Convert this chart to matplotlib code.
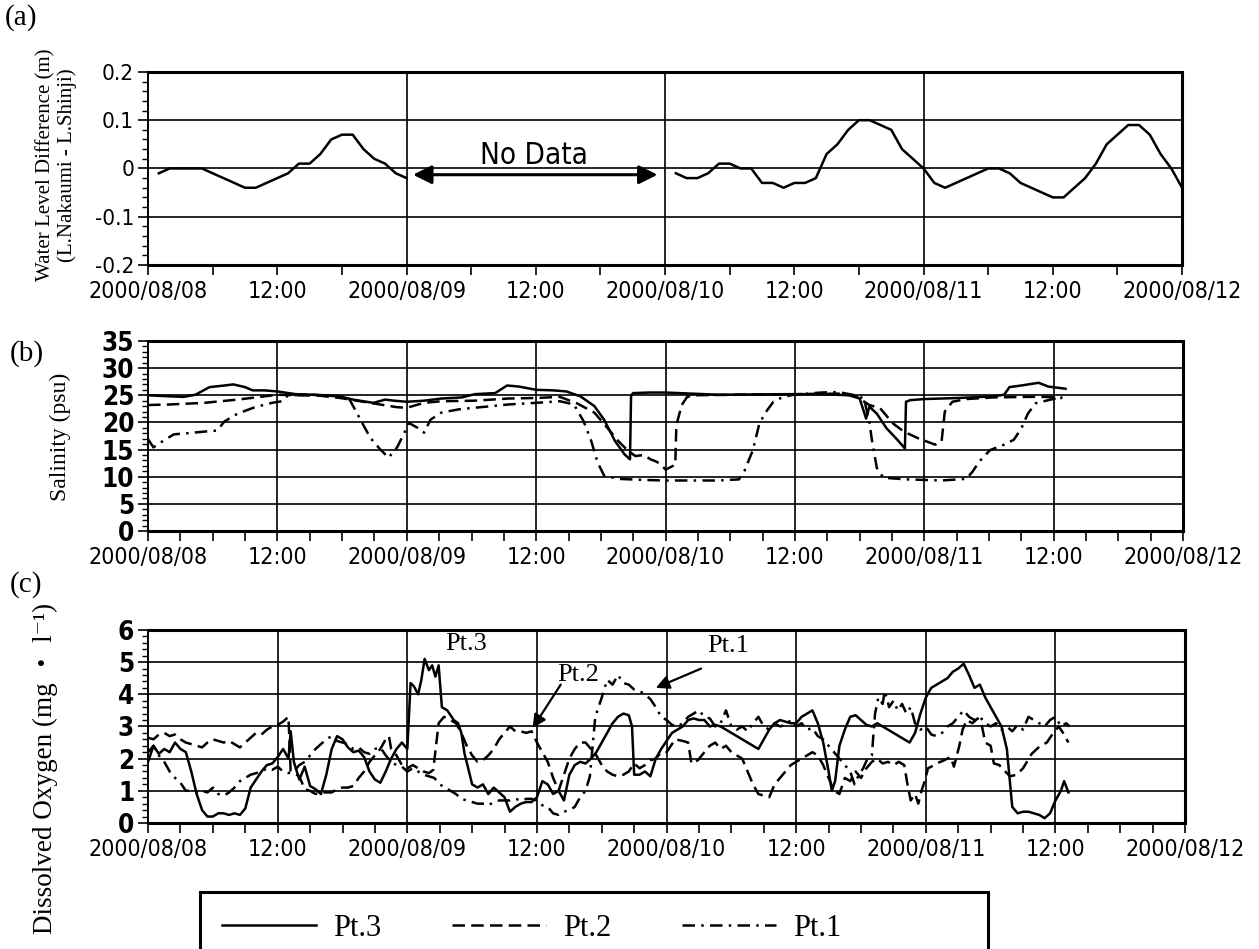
import matplotlib

matplotlib.use("Agg")
import matplotlib.pyplot as plt
from matplotlib import font_manager
from matplotlib.font_manager import FontProperties
from matplotlib.patches import Rectangle
from matplotlib.ticker import FuncFormatter, MultipleLocator

plt.rcParams["axes.unicode_minus"] = False


def is_regular(f):
    return f.weight in (400, "normal", "regular") and f.style == "normal"


def is_bold(f):
    return f.weight in (700, "bold") and f.style == "normal"


# pick a narrow sans for the tick labels if one is installed
fonts = font_manager.fontManager.ttflist
narrow = [f for f in fonts
          if ("Narrow" in f.name or "Condensed" in f.name or f.stretch in ("condensed", "semi-condensed"))
          and is_regular(f) and "Mono" not in f.name and "Serif" not in f.name]
if narrow:
    base = narrow[0]
    bold = [f for f in fonts if f.name == base.name and f.stretch == base.stretch and is_bold(f)]
    TICK_FILE = base.fname
    TICK_BOLD_FILE = bold[0].fname if bold else base.fname
    TICK_SCALE = 0.85
else:
    TICK_FILE = None
    TICK_BOLD_FILE = None
    TICK_SCALE = 0.8
SERIF = "Liberation Serif"


def tick_font(size, bold=False):
    if TICK_FILE is None:
        fp = FontProperties(family="Liberation Sans", weight="bold" if bold else "normal")
    else:
        fp = FontProperties(fname=TICK_BOLD_FILE if bold else TICK_FILE)
    fp.set_size(size * TICK_SCALE)
    return fp


# time axis: hours after 2000/08/08 00:00
DATE_TICKS = [0, 12, 24, 36, 48, 60, 72, 84, 96]
DATE_LABELS = ["2000/08/08", "12:00", "2000/08/09", "12:00", "2000/08/10",
               "12:00", "2000/08/11", "12:00", "2000/08/12"]
SERIES = ["Pt.3", "Pt.2", "Pt.1"]

# (a) water level difference, hourly, two recorded spans
WL_HOURS_1 = list(range(1, 25))
WL_1 = [-0.01, 0.0, 0.0, 0.0, 0.0, -0.01, -0.02, -0.03, -0.04, -0.04, -0.03, -0.02,
        -0.01, 0.01, 0.01, 0.03, 0.06, 0.07, 0.07, 0.04, 0.02, 0.01, -0.01, -0.02]
WL_HOURS_2 = list(range(49, 97))
WL_2 = [-0.01, -0.02, -0.02, -0.01, 0.01, 0.01, 0.0, 0.0, -0.03, -0.03, -0.04, -0.03,
        -0.03, -0.02, 0.03, 0.05, 0.08, 0.10, 0.10, 0.09, 0.08, 0.04, 0.02, 0.0,
        -0.03, -0.04, -0.03, -0.02, -0.01, 0.0, 0.0, -0.01, -0.03, -0.04, -0.05, -0.06,
        -0.06, -0.04, -0.02, 0.01, 0.05, 0.07, 0.09, 0.09, 0.07, 0.03, 0.0, -0.04]

# (b) salinity (hour, psu)
SAL_PT3 = [(0, 25), (2, 24.8), (3.3, 24.7), (4.4, 25.1), (5.7, 26.5), (7.1, 26.8), (7.9, 27.0),
           (9.0, 26.5), (9.7, 25.9), (10.8, 25.9), (12, 25.7), (13.7, 25.2), (15.6, 25.1),
           (17.8, 24.8), (19, 24.2), (20.9, 23.6), (22, 24.2), (22.8, 24.0), (24, 23.8),
           (25.6, 24.0), (27.2, 24.4), (29.1, 24.6), (30.3, 25.2), (32.2, 25.4), (33.3, 26.8),
           (34.4, 26.6), (36, 26.0), (37.6, 25.9), (38.8, 25.7), (40.1, 24.8), (41.4, 23.0),
           (42.3, 20.5), (43.3, 16.6), (44.2, 14.1), (44.7, 13.2), (44.8, 25.0), (45, 25.4),
           (46.5, 25.5), (48, 25.5), (52.9, 25.1), (59.2, 25.2), (62.4, 25.2), (65, 25.0),
           (66, 24.4), (66.6, 20.7), (66.9, 22.9), (67.6, 21.6), (68.5, 18.9), (69.5, 16.8),
           (70.2, 15.2), (70.3, 23.8), (70.7, 24.1), (72, 24.3), (75.2, 24.5), (78.4, 24.8),
           (79.4, 25.1), (79.9, 26.5), (81, 26.8), (82.6, 27.3), (83.5, 26.6), (85.1, 26.2)]
SAL_PT2 = [(0, 23.2), (2, 23.3), (5.2, 23.6), (8.3, 24.2), (10.8, 24.8), (12, 25.1), (14, 25.0),
           (16, 24.9), (17.8, 24.5), (20.9, 23.5), (23.1, 22.8), (24, 22.7), (25.6, 23.6),
           (27.2, 23.9), (30.3, 24.0), (33.4, 24.4), (36, 24.5), (38.2, 24.7), (39.8, 23.5),
           (41.4, 21.8), (42.6, 19.0), (43.6, 16.6), (44.5, 14.8), (45.2, 13.8), (46, 14.0),
           (46.6, 13.2), (47, 12.9), (47.5, 12.4), (48, 11.3), (48.9, 12.2), (49, 19.5),
           (49.5, 23.2), (50, 24.7), (50.6, 25.0), (55, 25.1), (60, 25.2), (64, 25.3),
           (65.6, 24.9), (66.9, 23.2), (67.9, 22.6), (69.1, 19.8), (70.1, 18.3), (71.4, 17.1),
           (73, 15.9), (73.6, 16.5), (73.9, 22.0), (74.6, 23.8), (75.9, 24.3), (78.4, 24.6),
           (81.6, 24.7), (83.2, 24.7), (84.8, 24.5)]
SAL_PT1 = [(0, 16.9), (0.5, 15.4), (1.4, 16.6), (2.4, 17.8), (3.6, 18.0), (5.2, 18.3), (6.4, 18.5),
           (7.1, 20.2), (8.3, 21.6), (9.9, 22.8), (11.5, 23.6), (12.4, 23.9), (13, 25.0),
           (15, 25.1), (17.8, 24.8), (18.7, 24.2), (19.7, 20.5), (20.6, 17.2), (21.5, 15.1),
           (22.3, 13.5), (23.1, 15.4), (23.7, 17.8), (24.2, 19.9), (25, 19.0), (25.6, 18.1),
           (26.2, 20.5), (27.2, 21.8), (28.8, 22.4), (30.3, 22.7), (31.9, 23.0), (33.4, 23.3),
           (36, 23.6), (38.2, 23.9), (39.5, 23.3), (40.4, 20.2), (41.1, 16.6), (41.7, 12.6),
           (42.3, 10.2), (43.6, 9.6), (46, 9.4), (47.9, 9.3), (49.7, 9.3), (52.9, 9.3),
           (54.8, 9.5), (55.3, 11.0), (56.1, 14.9), (56.7, 19.8), (57.3, 21.9), (58, 23.8),
           (58.9, 24.7), (59.9, 25.1), (62.4, 25.5), (64, 25.6), (65.6, 25.0), (66.4, 24.4),
           (66.9, 20.1), (67.2, 15.9), (67.6, 11.6), (68.2, 9.8), (70.4, 9.5), (73.6, 9.3),
           (75.9, 9.6), (76.5, 11.0), (77.1, 12.8), (78.1, 14.9), (79.4, 15.9), (80.3, 16.8),
           (81, 18.9), (81.6, 21.6), (82.3, 23.5), (83.5, 24.1), (84.8, 24.7)]

# (c) dissolved oxygen (hour, mg/l)
DO_PT3 = [(0, 1.9), (0.5, 2.4), (1, 2.15), (1.5, 2.3), (2, 2.2), (2.5, 2.5), (3, 2.3), (3.5, 2.2),
          (4, 1.6), (4.5, 0.9), (5, 0.4), (5.5, 0.2), (6, 0.2), (6.5, 0.3), (7, 0.3), (7.5, 0.25),
          (8, 0.3), (8.5, 0.25), (9, 0.45), (9.5, 1.1), (10, 1.35), (10.5, 1.6), (11, 1.8),
          (11.5, 1.85), (12, 2.05), (12.5, 2.3), (13, 2.0), (13.2, 2.85), (13.5, 1.9), (14, 1.35),
          (14.5, 1.75), (15, 1.15), (15.5, 1.05), (16, 0.9), (16.5, 1.5), (17, 2.3), (17.5, 2.7),
          (18, 2.6), (18.5, 2.35), (19, 2.2), (19.5, 2.25), (20, 2.05), (20.5, 1.6), (21, 1.35),
          (21.5, 1.25), (22, 1.6), (22.5, 2.0), (23, 2.3), (23.5, 2.5), (24, 2.3), (24.3, 4.35),
          (24.6, 4.25), (25, 4.0), (25.3, 4.45), (25.6, 5.1), (26, 4.75), (26.3, 4.9), (26.6, 4.55),
          (26.9, 4.9), (27.2, 3.6), (27.7, 3.5), (28.3, 3.2), (28.7, 3.1), (29, 2.8), (29.3, 2.15),
          (29.6, 1.75), (30, 1.2), (30.5, 1.1), (31, 1.2), (31.5, 0.9), (32, 1.1), (32.5, 0.95),
          (33, 0.8), (33.5, 0.35), (34, 0.5), (34.5, 0.6), (35, 0.65), (35.5, 0.65), (36, 0.8),
          (36.5, 1.3), (37, 1.2), (37.5, 0.9), (38, 1.0), (38.5, 0.7), (39, 1.5), (39.5, 1.8),
          (40, 1.9), (40.5, 1.85), (41, 2.0), (41.5, 2.2), (42, 2.5), (42.5, 2.8), (43, 3.1),
          (43.5, 3.3), (44, 3.4), (44.5, 3.35), (44.8, 3.0), (45, 1.5), (45.5, 1.5), (46, 1.6),
          (46.5, 1.45), (47, 2.0), (47.5, 2.3), (48, 2.55), (48.5, 2.8), (49, 2.9), (49.5, 3.0),
          (50, 3.2), (50.5, 3.25), (51, 3.2), (51.5, 3.2), (52, 3.0), (52.5, 3.05), (53, 3.0),
          (53.5, 2.9), (54, 2.8), (54.5, 2.7), (55, 2.6), (55.5, 2.5), (56, 2.4), (56.5, 2.3),
          (57, 2.6), (57.5, 2.9), (58, 3.1), (58.5, 3.2), (59, 3.15), (59.5, 3.1), (60, 3.1),
          (60.5, 3.3), (61, 3.4), (61.5, 3.5), (62, 3.1), (62.5, 2.5), (63, 1.6), (63.3, 1.0),
          (63.6, 1.3), (64, 2.4), (64.5, 2.9), (65, 3.3), (65.5, 3.35), (66, 3.2), (66.5, 3.05),
          (67, 3.0), (67.5, 3.1), (68, 3.0), (68.5, 2.9), (69, 2.8), (69.5, 2.7), (70, 2.6),
          (70.5, 2.5), (71, 2.8), (71.5, 3.4), (72, 3.9), (72.5, 4.2), (73, 4.3), (73.5, 4.4),
          (74, 4.5), (74.5, 4.7), (75, 4.8), (75.5, 4.95), (76, 4.6), (76.5, 4.2), (77, 4.3),
          (77.5, 3.9), (78, 3.6), (78.5, 3.3), (79, 3.0), (79.5, 2.3), (80, 0.5), (80.5, 0.3),
          (81, 0.35), (81.5, 0.35), (82, 0.3), (82.5, 0.25), (83, 0.15), (83.5, 0.3), (84, 0.7),
          (84.5, 1.0), (84.8, 1.3), (85.2, 0.95)]
DO_PT2 = [(0, 2.65), (0.5, 2.6), (1, 2.75), (1.5, 2.8), (2, 2.7), (2.5, 2.75), (3, 2.6), (3.5, 2.5),
          (4, 2.45), (4.5, 2.4), (5, 2.35), (5.5, 2.5), (6, 2.6), (6.5, 2.55), (7, 2.5), (7.5, 2.55),
          (8, 2.45), (8.5, 2.35), (9, 2.5), (9.5, 2.65), (10, 2.8), (10.5, 2.75), (11, 2.9),
          (11.5, 3.0), (12, 3.05), (12.5, 3.15), (13, 3.3), (13.2, 1.6), (13.5, 1.55), (14, 1.45),
          (14.5, 1.05), (15, 1.0), (15.5, 0.9), (16, 0.95), (16.5, 0.95), (17, 0.95), (17.5, 1.05),
          (18, 1.1), (18.5, 1.1), (19, 1.15), (19.5, 1.4), (20, 1.6), (20.5, 1.9), (21, 2.1),
          (21.5, 2.3), (22, 2.6), (22.3, 2.7), (22.5, 2.3), (23, 2.1), (23.5, 1.8), (24, 1.7),
          (24.5, 1.8), (25, 1.7), (25.5, 1.6), (26, 1.55), (26.4, 1.65), (26.9, 3.1), (27.4, 3.3),
          (28, 3.2), (28.5, 3.1), (29, 2.8), (29.5, 2.4), (30, 2.1), (30.5, 1.9), (31, 1.95),
          (31.5, 2.1), (32, 2.3), (32.5, 2.6), (33, 2.8), (33.5, 3.0), (34, 2.85), (34.5, 2.85),
          (35, 2.8), (35.5, 2.85), (36, 2.5), (36.5, 2.2), (37, 1.9), (37.5, 1.4), (38, 1.0),
          (38.5, 1.5), (39, 2.0), (39.5, 2.3), (40, 2.5), (40.5, 2.5), (41, 2.3), (41.5, 2.1),
          (42, 1.8), (42.5, 1.6), (43, 1.5), (43.5, 1.45), (44, 1.5), (44.5, 1.6), (45, 1.85),
          (45.5, 1.7), (46, 1.8), (46.5, 1.95), (47, 2.0), (47.5, 2.2), (48, 2.2), (48.8, 2.6),
          (49.5, 2.55), (50, 2.5), (50.3, 1.85), (50.9, 1.95), (51.5, 2.2), (52, 2.4), (52.5, 2.5),
          (53, 2.3), (53.5, 2.4), (54, 2.2), (54.5, 2.1), (55, 2.0), (55.5, 1.6), (56, 1.2),
          (56.5, 0.9), (57, 0.85), (57.5, 0.8), (58, 1.2), (58.5, 1.4), (59, 1.6), (59.5, 1.8),
          (60, 1.9), (60.5, 2.0), (61, 2.1), (61.5, 2.2), (62, 2.1), (62.5, 1.8), (63, 1.4),
          (63.5, 1.0), (64, 0.9), (64.5, 1.4), (65, 1.3), (65.5, 1.6), (66, 1.4), (66.5, 1.7),
          (67, 1.9), (67.5, 2.0), (68, 1.85), (68.5, 1.9), (69, 1.8), (69.5, 1.9), (70, 1.8),
          (70.3, 1.2), (70.6, 0.7), (71, 0.9), (71.3, 0.6), (71.6, 1.0), (71.9, 1.3), (72.2, 1.7),
          (72.5, 1.75), (73, 1.85), (73.7, 1.95), (74.3, 2.05), (74.6, 1.75), (75.1, 2.4),
          (75.4, 2.9), (75.8, 3.2), (76.3, 3.1), (76.8, 3.25), (77.2, 3.0), (77.5, 2.5), (78, 2.4),
          (78.3, 1.85), (78.8, 1.8), (79.2, 1.65), (79.8, 1.45), (80.4, 1.5), (81, 1.7),
          (81.8, 2.15), (82.6, 2.4), (83.2, 2.5), (83.8, 2.8), (84.3, 3.0), (84.7, 2.8), (85.2, 2.5)]
DO_PT1 = [(0, 2.2), (0.5, 2.4), (1, 2.1), (1.5, 1.9), (2, 1.6), (2.5, 1.4), (3, 1.25), (3.5, 1.0),
          (4, 1.0), (4.5, 0.95), (5, 1.0), (5.5, 0.95), (6, 1.1), (6.5, 0.9), (7, 0.85), (7.5, 0.95),
          (8, 1.1), (8.5, 1.3), (9, 1.4), (9.5, 1.5), (10, 1.55), (10.5, 1.6), (11, 1.7), (11.5, 1.65),
          (12, 1.75), (12.5, 1.6), (13, 1.55), (13.5, 1.6), (14, 1.8), (14.5, 1.9), (15, 2.1),
          (15.5, 2.3), (16, 2.45), (16.5, 2.6), (17, 2.7), (17.5, 2.55), (18, 2.5), (18.5, 2.45),
          (19, 2.3), (19.5, 2.35), (20, 2.2), (20.5, 2.15), (21, 2.3), (21.5, 2.35), (22, 2.1),
          (22.5, 1.9), (23, 1.8), (23.5, 1.75), (24, 1.6), (24.5, 1.7), (25, 1.6), (25.5, 1.5),
          (26, 1.45), (26.5, 1.4), (27, 1.2), (27.5, 1.1), (28, 1.0), (28.5, 0.9), (29, 0.75),
          (29.5, 0.7), (30, 0.65), (30.5, 0.6), (31, 0.6), (31.5, 0.55), (32, 0.65), (32.5, 0.7),
          (33, 0.7), (33.5, 0.7), (34, 0.75), (34.5, 0.7), (35, 0.75), (35.5, 0.75), (36, 0.7),
          (36.5, 0.55), (37, 0.5), (37.5, 0.3), (38, 0.25), (38.5, 0.35), (39, 0.4), (39.5, 0.5),
          (40, 0.8), (40.5, 1.0), (40.9, 1.45), (41.4, 3.3), (42, 3.9), (42.5, 4.45), (43, 4.3),
          (43.5, 4.6), (44, 4.35), (44.5, 4.3), (45, 4.15), (45.5, 4.1), (46, 4.0), (46.5, 3.85),
          (47, 3.6), (47.5, 3.3), (48, 3.2), (48.5, 3.05), (49, 3.0), (49.5, 3.1), (50, 3.3),
          (50.5, 3.4), (51, 3.5), (51.5, 3.3), (52, 3.25), (52.5, 3.0), (53, 3.1), (53.5, 3.5),
          (54, 3.0), (54.5, 2.9), (55, 3.0), (55.5, 2.85), (56, 3.1), (56.5, 3.3), (57, 3.0),
          (57.5, 2.9), (58, 3.1), (58.5, 3.0), (59, 3.05), (59.5, 3.2), (60, 3.0), (60.5, 3.1),
          (61, 2.9), (61.5, 2.95), (62, 2.7), (62.5, 2.6), (63, 2.4), (63.5, 2.2), (64, 2.0),
          (64.5, 1.8), (65, 1.6), (65.4, 1.2), (65.8, 1.5), (66.2, 1.7), (66.6, 2.0), (67, 2.1),
          (67.3, 3.4), (67.6, 3.9), (68, 3.7), (68.2, 4.1), (68.6, 3.6), (69, 3.8), (69.4, 3.5),
          (69.8, 3.7), (70.2, 3.4), (70.6, 3.6), (71, 3.1), (71.5, 2.9), (72, 3.0), (72.5, 2.75),
          (73, 2.7), (73.5, 2.8), (74, 3.0), (74.5, 3.1), (75, 3.3), (75.5, 3.5), (76, 3.3),
          (76.5, 3.2), (77, 3.3), (77.5, 3.1), (78, 3.0), (78.5, 3.1), (79, 2.9), (79.5, 3.0),
          (80, 2.85), (80.5, 3.05), (81, 2.9), (81.5, 3.3), (82, 3.2), (82.5, 3.1), (83, 3.0),
          (83.5, 3.2), (84, 3.3), (84.5, 3.0), (85, 3.1), (85.3, 3.0)]

LINE_STYLES = {
    "Pt.3": dict(linestyle="-"),
    "Pt.2": dict(dashes=(5, 2.5)),
    "Pt.1": dict(dashes=(5, 2.5, 1, 2.5)),
}
LW = 1.8


def plain_number(v, _pos):
    if abs(v) < 1e-9:
        return "0"
    if float(v).is_integer():
        return str(int(round(v)))
    return f"{v:.1f}"


def style_axis(ax, ylim, ymajor, yminor, xminor, ylabel_size, ylabel_bold, vgrid_every):
    ax.set_xlim(0, 96)
    ax.set_xticks(DATE_TICKS)
    ax.set_xticklabels(DATE_LABELS)
    ax.xaxis.set_minor_locator(MultipleLocator(xminor))
    ax.yaxis.set_major_locator(MultipleLocator(ymajor))
    ax.yaxis.set_minor_locator(MultipleLocator(yminor))
    ax.yaxis.set_major_formatter(FuncFormatter(plain_number))
    ax.set_ylim(*ylim)
    ax.tick_params(axis="x", which="both", direction="out", length=7, width=1.2, pad=4)
    ax.tick_params(axis="y", which="major", direction="out", length=7, width=1.2, pad=3)
    ax.tick_params(axis="y", which="minor", direction="out", length=4, width=1.0)
    for lab in ax.get_xticklabels():
        lab.set_fontproperties(tick_font(19.5))
    for lab in ax.get_yticklabels():
        lab.set_fontproperties(tick_font(ylabel_size, ylabel_bold))
    ax.yaxis.grid(True, which="major", color="black", lw=1.2)
    for h in DATE_TICKS[1:-1]:
        if h % vgrid_every == 0:
            ax.axvline(h, color="black", lw=1.2, zorder=1)
    for side in ["top", "right", "bottom"]:
        ax.spines[side].set_linewidth(2.2)
    ax.spines["left"].set_linewidth(1.4)
    ax.set_axisbelow(True)


fig = plt.figure(figsize=(12.59, 9.49), dpi=100)
ax_a = fig.add_axes([0.1176, 0.7208, 0.8213, 0.2034])
ax_b = fig.add_axes([0.1176, 0.4405, 0.8221, 0.2002])
ax_c = fig.add_axes([0.1176, 0.1328, 0.8237, 0.2034])

# (a) water level difference
ax_a.plot(WL_HOURS_1, WL_1, color="black", lw=LW, zorder=3)
ax_a.plot(WL_HOURS_2, WL_2, color="black", lw=LW, zorder=3)
style_axis(ax_a, (-0.2, 0.2), 0.1, 0.02, 6, 19, False, 24)
ax_a.annotate("", xy=(47.3, -0.013), xytext=(24.6, -0.013),
              arrowprops=dict(arrowstyle="<|-|>", color="black", lw=2.2,
                              mutation_scale=28, shrinkA=0, shrinkB=0))
ax_a.text(35.8, 0.027, "No Data", ha="center", va="center", fontproperties=tick_font(25))

# (b) salinity
for name, data in zip(SERIES, [SAL_PT3, SAL_PT2, SAL_PT1]):
    hx, vy = zip(*data)
    ax_b.plot(hx, vy, color="black", lw=LW, zorder=3, **LINE_STYLES[name])
style_axis(ax_b, (0, 35), 5, 1, 3, 22, True, 12)

# (c) dissolved oxygen
handles = []
for name, data in zip(SERIES, [DO_PT3, DO_PT2, DO_PT1]):
    hx, vy = zip(*data)
    line, = ax_c.plot(hx, vy, color="black", lw=LW, zorder=3, label=name, **LINE_STYLES[name])
    handles.append(line)
style_axis(ax_c, (0, 6), 1, 0.2, 3, 22, True, 12)

ax_c.text(29.4, 5.55, "Pt.3", ha="center", va="center", fontfamily=SERIF, fontsize=19)
ax_c.text(39.8, 4.6, "Pt.2", ha="center", va="center", fontfamily=SERIF, fontsize=19)
ax_c.text(53.7, 5.5, "Pt.1", ha="center", va="center", fontfamily=SERIF, fontsize=19)
ax_c.annotate("", xy=(35.6, 2.95), xytext=(38.2, 4.3),
              arrowprops=dict(arrowstyle="-|>", color="black", lw=1.6,
                              mutation_scale=20, shrinkA=0, shrinkB=0))
ax_c.annotate("", xy=(47.0, 4.2), xytext=(51.2, 4.8),
              arrowprops=dict(arrowstyle="-|>", color="black", lw=1.6,
                              mutation_scale=20, shrinkA=0, shrinkB=0))

# panel letters and y labels
fig.text(0.004, 0.981, "(a)", fontfamily=SERIF, fontsize=21, va="center")
fig.text(0.008, 0.627, "(b)", fontfamily=SERIF, fontsize=21, va="center")
fig.text(0.008, 0.384, "(c)", fontfamily=SERIF, fontsize=21, va="center")
fig.text(0.036, 0.826, "Water Level Difference (m)", rotation=90, ha="center", va="center",
         fontfamily=SERIF, fontsize=15)
fig.text(0.053, 0.826, "(L.Nakaumi - L.Shinji)", rotation=90, ha="center", va="center",
         fontfamily=SERIF, fontsize=15)
fig.text(0.048, 0.540, "Salinity (psu)", rotation=90, ha="center", va="center",
         fontfamily=SERIF, fontsize=17)
fig.text(0.036, 0.190, "Dissolved Oxygen (mg ・ l⁻¹)", rotation=90, ha="center", va="center",
         family=[SERIF, "DejaVu Serif", "Noto Sans CJK JP"], fontsize=19.5)

# legend box at the bottom
fig.add_artist(Rectangle((0.1589, -0.02), 0.6259, 0.0801, transform=fig.transFigure,
                         fill=False, lw=2.2, edgecolor="black"))
fig.legend(handles=handles, labels=SERIES, loc="center left", bbox_to_anchor=(0.176, 0.022),
           ncol=3, frameon=False, borderpad=0, borderaxespad=0, handlelength=3.1,
           handletextpad=0.55, columnspacing=2.3, prop=dict(family=SERIF, size=22))

fig.savefig("out.png", dpi=100)
